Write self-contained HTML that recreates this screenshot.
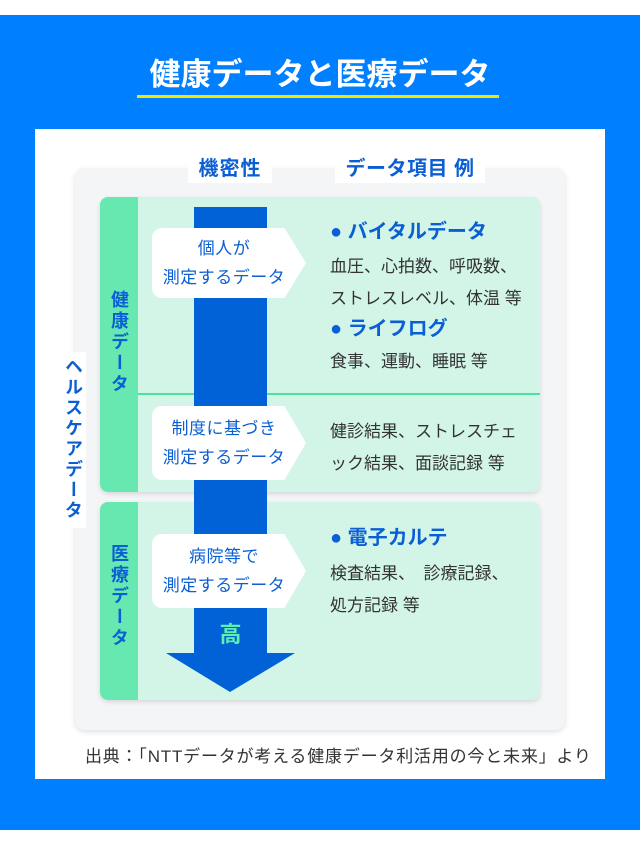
<!DOCTYPE html>
<html><head><meta charset="utf-8">
<style>
*{margin:0;padding:0;box-sizing:border-box}
body{width:640px;height:845px;background:#fff;position:relative;overflow:hidden;font-family:"Liberation Sans","Noto Sans CJK JP",sans-serif}
.a{position:absolute}
.bl{color:#0a5fd4;font-weight:bold}
.tx{color:#333;font-size:17px;line-height:32px;letter-spacing:0px;white-space:nowrap}
.v{writing-mode:vertical-rl;text-orientation:upright}
.call{position:absolute;left:152px;width:154px;background:#fff;border-radius:10px 0 0 10px;clip-path:polygon(0 0,86% 0,100% 50%,86% 100%,0 100%);color:#0a5fd4;font-size:17px;letter-spacing:0.5px;line-height:29px;text-align:center;padding-right:10px;display:flex;flex-direction:column;justify-content:center;white-space:nowrap}
</style></head><body>
<div class="a" style="left:0;top:15px;width:640px;height:815px;background:#0080ff"></div>
<div class="a" style="left:0;top:56px;width:640px;text-align:center;color:#fff;font-size:31px;font-weight:bold;line-height:38px">健康データと医療データ</div>
<div class="a" style="left:137px;top:95px;width:362px;height:3px;background:#f2e600"></div>
<div class="a" style="left:35px;top:129px;width:570px;height:650px;background:#fff"></div>
<div class="a" style="left:75px;top:168px;width:490px;height:562px;background:#f3f5f6;border-radius:10px;box-shadow:0 2px 6px rgba(0,0,0,.12)"></div>
<div class="a bl" style="left:188px;top:155px;width:84px;height:28px;background:#fff;text-align:center;font-size:20px;letter-spacing:1px;line-height:28px">機密性</div>
<div class="a bl" style="left:335px;top:155px;width:150px;height:28px;background:#fff;text-align:center;font-size:20px;letter-spacing:0.5px;line-height:28px;white-space:nowrap">データ項目 例</div>
<div class="a" style="left:100px;top:197px;width:440px;height:295px;background:#d3f5e8;border-radius:8px;overflow:hidden;box-shadow:0 2px 5px rgba(0,0,0,.12)">
<div class="a" style="left:0;top:0;width:38px;height:295px;background:#66e8b0"></div>
<div class="a" style="left:38px;top:196px;width:402px;height:2px;background:#46e49c"></div>
</div>
<div class="a" style="left:100px;top:502px;width:440px;height:198px;background:#d3f5e8;border-radius:8px;overflow:hidden;box-shadow:0 2px 5px rgba(0,0,0,.12)">
<div class="a" style="left:0;top:0;width:38px;height:198px;background:#66e8b0"></div>
</div>
<div class="a bl v" style="left:107px;top:290px;width:24px;font-size:18px;letter-spacing:3px;line-height:24px">健康データ</div>
<div class="a bl v" style="left:107px;top:544px;width:24px;font-size:18px;letter-spacing:3px;line-height:24px">医療データ</div>
<div class="a bl v" style="left:60px;top:352px;width:26px;height:176px;background:#fff;font-size:18px;letter-spacing:2.5px;line-height:26px;padding-top:5px">ヘルスケアデータ</div>
<svg class="a" style="left:160px;top:200px" width="140" height="500"><path d="M34 7 H107 V453 H135 L70 492 L6 453 H34 Z" fill="#0062d6"/></svg>
<div class="a" style="left:194px;top:617px;width:73px;text-align:center;color:#5ef0b0;font-size:22px;font-weight:bold">高</div>
<div class="call" style="top:228px;height:70px"><div>個人が</div><div>測定するデータ</div></div>
<div class="call" style="top:406px;height:74px"><div>制度に基づき</div><div>測定するデータ</div></div>
<div class="call" style="top:534px;height:74px"><div>病院等で</div><div>測定するデータ</div></div>
<div class="a bl" style="left:330px;top:218px;font-size:20px;line-height:28px;white-space:nowrap">● バイタルデータ</div>
<div class="a tx" style="left:330px;top:251px">血圧、心拍数、呼吸数、<br>ストレスレベル、体温 等</div>
<div class="a bl" style="left:330px;top:315px;font-size:20px;line-height:28px">● ライフログ</div>
<div class="a tx" style="left:330px;top:346px">食事、運動、睡眠 等</div>
<div class="a tx" style="left:330px;top:416px">健診結果、ストレスチェ<br>ック結果、面談記録 等</div>
<div class="a bl" style="left:330px;top:524px;font-size:20px;line-height:28px">● 電子カルテ</div>
<div class="a tx" style="left:330px;top:558px">検査結果、　診療記録、<br>処方記録 等</div>
<div class="a" style="left:85px;top:745px;color:#333;font-size:17px;letter-spacing:0.8px;line-height:24px;white-space:nowrap">出典：「NTTデータが考える健康データ利活用の今と未来」より</div>
</body></html>
